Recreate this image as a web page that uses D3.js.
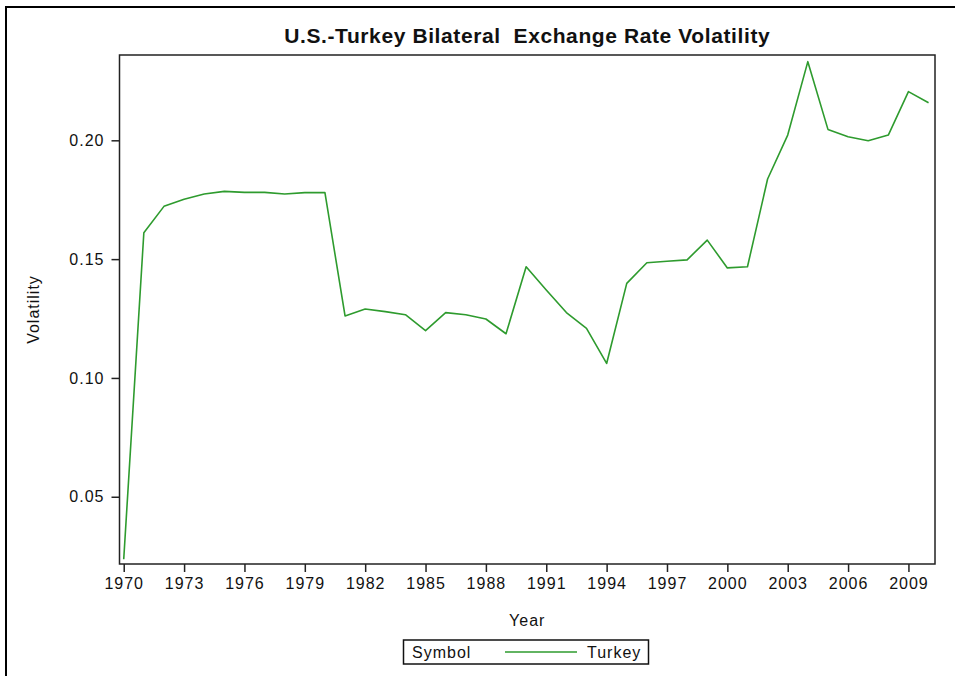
<!DOCTYPE html>
<html>
<head>
<meta charset="utf-8">
<script src="https://cdn.jsdelivr.net/npm/d3@7"></script>
<style>
  html, body { margin: 0; padding: 0; background: #fff; }
  svg { display: block; font-family: "Liberation Sans", Arial, sans-serif; }
  .tick text { letter-spacing: 1px; }
</style>
</head>
<body>
<svg id="chart" width="955" height="676"></svg>
<script>
'use strict';

// ── Data ──────────────────────────────────────────────────
const years = d3.range(1970, 2011);
const volatility = [
  0.0237, 0.1611, 0.1722, 0.1752, 0.1774, 0.1785, 0.1781, 0.1781, 0.1774, 0.1780,
  0.1780, 0.1261, 0.1290, 0.1279, 0.1266, 0.1199, 0.1275, 0.1266, 0.1248, 0.1186,
  0.1468, 0.1370, 0.1275, 0.1209, 0.1061, 0.1398, 0.1485, 0.1491, 0.1497, 0.1580,
  0.1463, 0.1468, 0.1837, 0.2022, 0.2331, 0.2046, 0.2015, 0.1998, 0.2022, 0.2205,
  0.2158
];
const xTicks = d3.range(1970, 2010, 3);
const yTicks = [0.05, 0.10, 0.15, 0.20];
const seriesName = 'Turkey';

// ── Layout ────────────────────────────────────────────────
const W = 955, H = 676;
const plot = { left: 119.5, top: 55, right: 935, bottom: 564 };
const lineColor = '#2e9b2e';
const axisColor = '#222';

const svg = d3.select('#chart');

// outer frame (runs off the right and bottom edges)
svg.append('rect')
  .attr('x', 6).attr('y', 7)
  .attr('width', W + 20).attr('height', H + 20)
  .attr('fill', 'none')
  .attr('stroke', '#000')
  .attr('stroke-width', 2);

// ── Scales ────────────────────────────────────────────────
const x = d3.scaleLinear().domain([1969.79, 2010.32]).range([plot.left, plot.right]);
const y = d3.scaleLinear().domain([0.0217, 0.2359]).range([plot.bottom, plot.top]);

// plot frame
svg.append('rect')
  .attr('x', plot.left).attr('y', plot.top)
  .attr('width', plot.right - plot.left)
  .attr('height', plot.bottom - plot.top)
  .attr('fill', 'none')
  .attr('stroke', axisColor)
  .attr('stroke-width', 1.5);

// Axes
const xAxis = svg.append('g')
  .attr('transform', `translate(0,${plot.bottom})`)
  .call(d3.axisBottom(x).tickValues(xTicks).tickFormat(d3.format('d')).tickSize(8).tickPadding(6).tickSizeOuter(0));

const yAxis = svg.append('g')
  .attr('transform', `translate(${plot.left},0)`)
  .call(d3.axisLeft(y).tickValues(yTicks).tickFormat(d3.format('.2f')).tickSize(8).tickPadding(7).tickSizeOuter(0));

[xAxis, yAxis].forEach(a => {
  a.select('.domain').remove();
  a.selectAll('.tick line').attr('stroke', axisColor).attr('stroke-width', 1.5);
  a.selectAll('.tick text')
    .attr('fill', '#111')
    .attr('font-size', 16)
    .attr('font-family', '"Liberation Sans", Arial, sans-serif');
});

// Line
const lineGen = d3.line()
  .x((d, i) => x(years[i]))
  .y(d => y(d));

svg.append('path')
  .datum(volatility)
  .attr('d', lineGen)
  .attr('fill', 'none')
  .attr('stroke', lineColor)
  .attr('stroke-width', 1.6)
  .attr('stroke-linejoin', 'round');

// Title
svg.append('text')
  .attr('x', (plot.left + plot.right) / 2)
  .attr('y', 43)
  .attr('text-anchor', 'middle')
  .attr('font-size', 21)
  .attr('font-weight', 'bold')
  .attr('letter-spacing', 0.6)
  .attr('fill', '#111')
  .style('white-space', 'pre')
  .text('U.S.-Turkey Bilateral  Exchange Rate Volatility');

// Axis labels
svg.append('text')
  .attr('x', (plot.left + plot.right) / 2)
  .attr('y', 626)
  .attr('text-anchor', 'middle')
  .attr('font-size', 16)
  .attr('letter-spacing', 1)
  .attr('fill', '#111')
  .text('Year');

svg.append('text')
  .attr('transform', `translate(39,${(plot.top + plot.bottom) / 2}) rotate(-90)`)
  .attr('text-anchor', 'middle')
  .attr('font-size', 16)
  .attr('letter-spacing', 1)
  .attr('fill', '#111')
  .text('Volatility');

// Legend
const legend = svg.append('g');
legend.append('rect')
  .attr('x', 403.5).attr('y', 640)
  .attr('width', 245).attr('height', 24)
  .attr('fill', 'none')
  .attr('stroke', '#111')
  .attr('stroke-width', 1.5);
legend.append('text')
  .attr('x', 412).attr('y', 658)
  .attr('font-size', 16)
  .attr('letter-spacing', 1)
  .attr('fill', '#111')
  .text('Symbol');
legend.append('line')
  .attr('x1', 505).attr('x2', 577)
  .attr('y1', 652).attr('y2', 652)
  .attr('stroke', lineColor)
  .attr('stroke-width', 1.6);
legend.append('text')
  .attr('x', 587).attr('y', 658)
  .attr('font-size', 16)
  .attr('letter-spacing', 1)
  .attr('fill', '#111')
  .text(seriesName);
</script>
</body>
</html>
